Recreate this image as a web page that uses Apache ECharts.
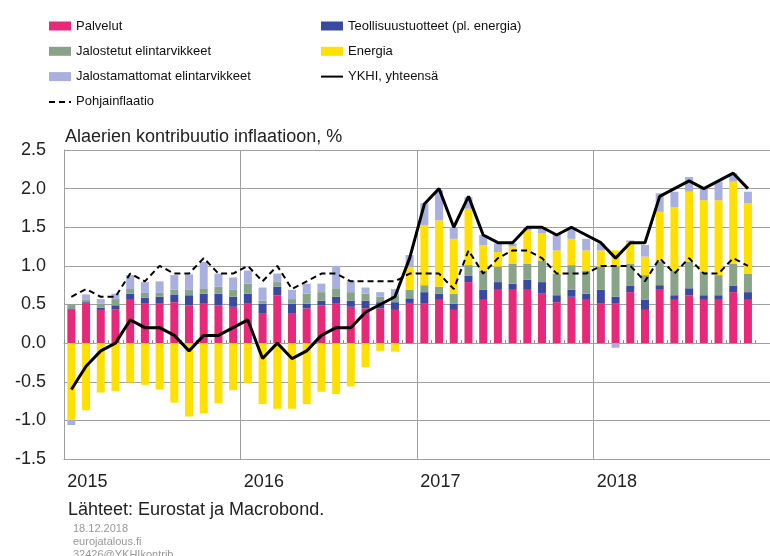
<html>
    <head>
        <meta charset="utf-8">
        <script src="https://cdn.jsdelivr.net/npm/echarts@6/dist/echarts.min.js"></script>
        <style>
            html, body { margin: 0; padding: 0; background: #fff; }
            #main { width: 770px; height: 556px; }
        </style>
    </head>
    <body>
        <div id="main"></div>
        <script>
            // months Jan 2015 .. Dec 2018 (last month has no data)
            var months = [];
            [2015, 2016, 2017, 2018].forEach(function (y) {
                for (var m = 1; m <= 12; m++) {
                    months.push(y + '-' + (m < 10 ? '0' + m : m));
                }
            });

            var palvelut = [0.44, 0.51, 0.43, 0.44, 0.56, 0.51, 0.51, 0.53, 0.49, 0.51, 0.49, 0.47,
                0.51, 0.38, 0.62, 0.38, 0.45, 0.49, 0.51, 0.47, 0.45, 0.45, 0.43, 0.52,
                0.51, 0.56, 0.43, 0.79, 0.56, 0.69, 0.69, 0.69, 0.64, 0.53, 0.60, 0.56,
                0.51, 0.51, 0.66, 0.43, 0.69, 0.56, 0.62, 0.56, 0.56, 0.66, 0.56];
            var teollisuus = [0.01, 0.02, 0.03, 0.05, 0.08, 0.08, 0.09, 0.10, 0.13, 0.13, 0.15, 0.13,
                0.13, 0.13, 0.11, 0.13, 0.06, 0.06, 0.09, 0.08, 0.10, 0.08, 0.10, 0.06,
                0.15, 0.08, 0.08, 0.08, 0.13, 0.10, 0.08, 0.13, 0.15, 0.09, 0.09, 0.08,
                0.18, 0.09, 0.08, 0.13, 0.06, 0.06, 0.09, 0.06, 0.06, 0.08, 0.10];
            var jalostetut = [0.05, 0.03, 0.05, 0.08, 0.06, 0.06, 0.05, 0.06, 0.07, 0.07, 0.09, 0.09,
                0.13, 0.04, 0.06, 0.06, 0.13, 0.11, 0.11, 0.11, 0.09, 0.07, 0.09, 0.11,
                0.09, 0.09, 0.13, 0.14, 0.25, 0.20, 0.26, 0.21, 0.28, 0.28, 0.32, 0.30,
                0.30, 0.39, 0.29, 0.32, 0.30, 0.32, 0.34, 0.30, 0.26, 0.29, 0.24];
            var energia = [-0.99, -0.87, -0.64, -0.62, -0.51, -0.54, -0.60, -0.77, -0.95, -0.91, -0.78, -0.61,
                -0.52, -0.79, -0.85, -0.85, -0.79, -0.63, -0.66, -0.56, -0.31, -0.10, -0.11, 0.30,
                0.78, 0.86, 0.71, 0.73, 0.33, 0.19, 0.22, 0.43, 0.35, 0.30, 0.34, 0.26,
                0.21, 0.21, 0.28, 0.24, 0.65, 0.82, 0.91, 0.93, 0.97, 1.06, 0.91];
            var jalostamattomat = [-0.07, 0.07, 0.06, 0.07, 0.18, 0.14, 0.15, 0.19, 0.20, 0.34, 0.17, 0.16,
                0.17, 0.17, 0.11, 0.12, 0.13, 0.11, 0.29, 0.15, 0.08, 0.06, 0.08, 0.15,
                0.28, 0.39, 0.15, 0.15, 0.13, 0.11, 0.04, 0.04, 0.06, 0.22, 0.15, 0.15,
                0.09, -0.06, 0.02, 0.15, 0.24, 0.20, 0.19, 0.15, 0.24, 0.11, 0.15];
            var ykhi = [-0.6, -0.3, -0.1, 0.0, 0.3, 0.2, 0.2, 0.1, -0.1, 0.1, 0.1, 0.2,
                0.3, -0.2, 0.0, -0.2, -0.1, 0.1, 0.2, 0.2, 0.4, 0.5, 0.6, 1.1,
                1.8, 2.0, 1.5, 1.9, 1.4, 1.3, 1.3, 1.5, 1.5, 1.4, 1.5, 1.4,
                1.3, 1.1, 1.3, 1.3, 1.9, 2.0, 2.1, 2.0, 2.1, 2.2, 2.0];
            var pohjainflaatio = [0.6, 0.7, 0.6, 0.6, 0.9, 0.8, 1.0, 0.9, 0.9, 1.1, 0.9, 0.9,
                1.0, 0.8, 1.0, 0.7, 0.8, 0.9, 0.9, 0.8, 0.8, 0.8, 0.8, 0.9,
                0.9, 0.9, 0.7, 1.2, 0.9, 1.1, 1.2, 1.2, 1.1, 0.9, 0.9, 0.9,
                1.0, 1.0, 1.0, 0.8, 1.1, 0.9, 1.1, 0.9, 0.9, 1.1, 1.0];

            var font = '"Liberation Sans", Arial, sans-serif';
            var grid = '#a0a0a0';

            var chart = echarts.init(document.getElementById('main'), null, {renderer: 'canvas'});

            function barSeries(name, data, color) {
                return {
                    name: name,
                    type: 'bar',
                    stack: 'total',
                    data: data,
                    barWidth: 8,
                    itemStyle: {color: color}
                };
            }

            var legendText = {fontFamily: font, fontSize: 13, color: '#111', lineHeight: 16};
            var noDot = {opacity: 0};

            option = {
                animation: false,
                textStyle: {fontFamily: font},
                title: {
                    text: 'Alaerien kontribuutio inflaatioon, %',
                    left: 65,
                    top: 128,
                    padding: 0,
                    textStyle: {fontFamily: font, fontSize: 18, fontWeight: 'normal', color: '#222'}
                },
                legend: [{
                    orient: 'vertical',
                    left: 48,
                    top: 18,
                    padding: 0,
                    itemWidth: 22,
                    itemHeight: 9,
                    itemGap: 9.3,
                    textStyle: legendText,
                    data: [
                        {name: 'Palvelut', icon: 'rect'},
                        {name: 'Jalostetut elintarvikkeet', icon: 'rect'},
                        {name: 'Jalostamattomat elintarvikkeet', icon: 'rect'},
                        {name: 'Pohjainflaatio', itemStyle: noDot}
                    ]
                }, {
                    orient: 'vertical',
                    left: 320,
                    top: 18,
                    padding: 0,
                    itemWidth: 22,
                    itemHeight: 9,
                    itemGap: 9.3,
                    textStyle: legendText,
                    data: [
                        {name: 'Teollisuustuotteet (pl. energia)', icon: 'rect'},
                        {name: 'Energia', icon: 'rect'},
                        {name: 'YKHI, yhteensä', itemStyle: noDot}
                    ]
                }],
                grid: {left: 64, top: 150, right: -8, bottom: 97},
                xAxis: [{
                    type: 'category',
                    data: months,
                    boundaryGap: true,
                    axisLine: {show: true, onZero: false, lineStyle: {color: grid}},
                    axisTick: {show: false},
                    axisLabel: {
                        interval: function (i) { return i % 12 === 0; },
                        formatter: function (v) { return v.slice(0, 4); },
                        align: 'left',
                        margin: 14,
                        padding: [0, 0, 0, -4],
                        fontFamily: font,
                        fontSize: 18,
                        color: '#222'
                    },
                    splitLine: {
                        show: true,
                        interval: function (i) { return i % 12 === 0; },
                        lineStyle: {color: grid, width: 1}
                    }
                }, {
                    type: 'category',
                    data: months,
                    position: 'bottom',
                    boundaryGap: true,
                    axisLine: {show: true, onZero: true, lineStyle: {color: grid}},
                    axisTick: {show: true, inside: true, length: 3, interval: 0, lineStyle: {color: '#888'}},
                    axisLabel: {show: false},
                    splitLine: {show: false}
                }],
                yAxis: {
                    type: 'value',
                    min: -1.5,
                    max: 2.5,
                    interval: 0.5,
                    axisLine: {show: true, lineStyle: {color: grid}},
                    axisTick: {show: false},
                    axisLabel: {
                        margin: 18,
                        fontFamily: font,
                        fontSize: 18,
                        color: '#222',
                        formatter: function (v) { return v.toFixed(1); }
                    },
                    splitLine: {lineStyle: {color: grid, width: 1}}
                },
                series: [
                    barSeries('Palvelut', palvelut, '#e82878'),
                    barSeries('Teollisuustuotteet (pl. energia)', teollisuus, '#3a4aa3'),
                    barSeries('Jalostetut elintarvikkeet', jalostetut, '#88a388'),
                    barSeries('Energia', energia, '#ffe000'),
                    barSeries('Jalostamattomat elintarvikkeet', jalostamattomat, '#a9b0e0'),
                    {
                        name: 'YKHI, yhteensä',
                        type: 'line',
                        data: ykhi,
                        symbol: 'none',
                        z: 5,
                        itemStyle: {color: '#000'},
                        lineStyle: {color: '#000', width: 3}
                    },
                    {
                        name: 'Pohjainflaatio',
                        type: 'line',
                        data: pohjainflaatio,
                        symbol: 'none',
                        z: 5,
                        itemStyle: {color: '#000'},
                        lineStyle: {color: '#000', width: 2, type: [6, 4]}
                    }
                ],
                graphic: [
                    {type: 'text', left: 68, top: 501,
                        style: {text: 'Lähteet: Eurostat ja Macrobond.', font: '18px ' + font, fill: '#222'}},
                    {type: 'text', left: 73, top: 523,
                        style: {text: '18.12.2018', font: '11px ' + font, fill: '#999'}},
                    {type: 'text', left: 73, top: 536,
                        style: {text: 'eurojatalous.fi', font: '11px ' + font, fill: '#999'}},
                    {type: 'text', left: 73, top: 549,
                        style: {text: '32426@YKHIkontrib', font: '11px ' + font, fill: '#999'}}
                ]
            };
            chart.setOption(option);
        </script>
    </body>
</html>
